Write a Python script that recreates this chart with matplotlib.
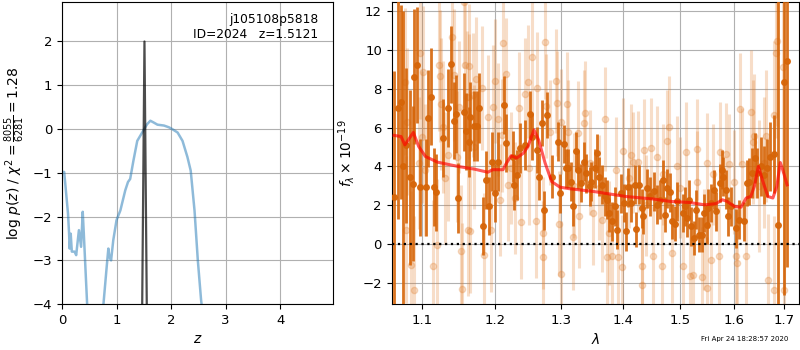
import numpy as np
import matplotlib
matplotlib.use('Agg')
from matplotlib import pyplot as plt
from matplotlib.ticker import NullLocator, FixedLocator, FixedFormatter

# ======== p(z) panel data ========
pz_z = [0.0, 0.04, 0.11, 0.13, 0.14, 0.16, 0.18, 0.23, 0.26, 0.31, 0.35, 0.38, 0.40,
        0.46, 0.55, 0.65, 0.76, 0.82, 0.85, 0.87, 0.90, 0.94, 1.0, 1.07, 1.16, 1.21,
        1.25, 1.31, 1.38, 1.47, 1.56, 1.62, 1.68, 1.75, 1.87, 1.96, 2.02, 2.12, 2.21,
        2.30, 2.36, 2.43, 2.49, 2.55, 2.7, 3.0, 3.5, 4.0, 4.5, 5.0]
pz_logp = [-0.98, -0.98, -1.93, -2.39, -2.73, -2.39, -2.80, -2.80, -2.88, -2.31, -2.69,
           -1.89, -2.39, -3.98, -5.5, -5.8, -4.0, -3.14, -2.73, -2.92, -3.0, -2.54, -2.08,
           -1.86, -1.40, -1.21, -1.14, -0.72, -0.27, -0.08, 0.11, 0.19, 0.15, 0.10, 0.08,
           0.04, 0.0, -0.08, -0.27, -0.64, -0.95, -1.86, -2.99, -3.9, -5.5, -8.0, -11.0,
           -14.0, -17.0, -20.0]

spike_z = [1.47, 1.5121, 1.555]
spike_logp = [-4.1, 2.0, -4.1]

z_best = 1.5121
obj_id = 2024
root = 'j105108p5818'
chi2_num, chi2_den = 8055, 6281

# ======== spectrum panel data ========
dark_wave = [1.063, 1.068, 1.072, 1.075, 1.079, 1.083, 1.087, 1.089, 1.093, 1.097,
             1.105, 1.108, 1.112, 1.116, 1.118, 1.127, 1.134, 1.138, 1.142, 1.145,
             1.148, 1.156, 1.159, 1.163, 1.165, 1.170, 1.175, 1.178, 1.183, 1.187,
             1.192, 1.196, 1.200, 1.205, 1.213, 1.217, 1.227, 1.228, 1.233, 1.237,
             1.244, 1.252, 1.255, 1.262, 1.266, 1.270, 1.273, 1.278, 1.285, 1.295,
             1.298, 1.304, 1.308, 1.311, 1.315, 1.319, 1.323, 1.327, 1.331, 1.336,
             1.340, 1.345, 1.348, 1.354, 1.357, 1.361, 1.365, 1.370, 1.374, 1.377,
             1.382, 1.386, 1.391, 1.397, 1.402, 1.405, 1.409, 1.414, 1.420, 1.423,
             1.427, 1.432, 1.435, 1.441, 1.446, 1.454, 1.459, 1.464, 1.470, 1.473,
             1.477, 1.482, 1.486, 1.490, 1.494, 1.505, 1.509, 1.513, 1.516, 1.520,
             1.525, 1.529, 1.535, 1.539, 1.544, 1.549, 1.551, 1.557, 1.562, 1.567,
             1.573, 1.577, 1.580, 1.585, 1.588, 1.594, 1.605, 1.610, 1.620, 1.626,
             1.630, 1.635, 1.642, 1.646, 1.653, 1.659, 1.665, 1.672, 1.679, 1.688,
             1.699, 1.706]
dark_flux = [2.4, 7.0, 7.31, 4.0, 5.08, 3.43, 3.1, 8.63, 9.23, 2.93,
             2.93, 6.48, 7.6, 2.93, 2.66, 5.45, 7.0, 9.26, 6.36, 6.69,
             2.37, 6.79, 5.8, 5.28, 6.57, 6.09, 6.09, 7.03, 0.91, 3.31,
             1.94, 4.25, 2.62, 4.25, 7.17, 5.2, 4.51, 3.05, 3.57, 4.94,
             5.11, 6.71, 5.54, 4.85, 3.48, 6.23, 1.73, 6.65, 3.48, 5.28,
             2.62, 5.16, 3.91, 3.91, 3.22, 1.94, 4.77, 3.83, 3.14, 4.25,
             3.65, 2.97, 3.22, 3.91, 4.68, 3.48, 3.05, 2.45, 2.28, 1.6,
             1.17, 1.94, 0.74, 2.62, 2.11, 0.65, 2.92, 2.11, 3.05, 0.77,
             3.05, 1.85, 1.42, 2.88, 2.45, 2.71, 2.02, 2.28, 3.31, 1.51,
             2.88, 2.66, 1.17, 1.05, 2.2, 1.6, 1.94, 1.34, 2.28, 0.91,
             0.31, 1.77, 0.48, 0.48, 1.6, 0.99, 1.85, 2.11, 2.8, 1.68,
             3.14, 3.83, 3.48, 2.8, 1.42, 1.94, 0.82, 1.25, 1.17, 3.14,
             3.22, 3.65, 4.42, 3.65, 4.0, 3.57, 3.91, 4.51, 4.65, 0.99,
             8.37, 9.43]
dark_err = [6.5, 5.7, 5.0, 8.0, 4.0, 4.5, 4.0, 3.5, 3.0, 2.5,
            2.5, 2.5, 2.5, 2.0, 2.0, 2.0, 2.0, 2.0, 2.0, 2.0,
            1.8, 2.0, 2.0, 1.8, 1.8, 1.8, 1.8, 1.8, 1.5, 1.5,
            1.5, 1.5, 1.5, 1.5, 1.5, 1.5, 1.3, 1.3, 1.3, 1.3,
            1.3, 1.2, 1.2, 1.2, 1.2, 1.2, 1.0, 1.2, 1.1, 1.0,
            1.0, 1.0, 1.0, 1.0, 1.0, 1.0, 1.0, 1.0, 1.0, 1.0,
            1.0, 1.0, 1.0, 1.0, 1.0, 1.0, 1.0, 1.0, 1.0, 1.0,
            1.0, 1.0, 1.0, 1.0, 1.0, 1.0, 1.0, 1.0, 1.0, 0.9,
            1.0, 1.0, 0.9, 1.0, 1.0, 1.0, 1.0, 1.0, 1.0, 0.9,
            1.0, 1.0, 0.9, 0.9, 1.0, 1.0, 1.0, 1.0, 1.0, 1.0,
            0.9, 1.0, 0.9, 0.9, 1.0, 1.0, 1.0, 1.0, 1.0, 1.0,
            1.0, 1.0, 1.0, 1.0, 1.0, 1.0, 1.0, 1.0, 1.0, 1.2,
            1.2, 1.3, 1.3, 1.3, 1.5, 1.5, 1.5, 1.8, 2.0, 12.0,
            11.0, 10.6]

light_wave = [1.077, 1.078, 1.080, 1.085, 1.089, 1.095, 1.097, 1.100, 1.101, 1.104,
              1.114, 1.120, 1.122, 1.123, 1.125, 1.127, 1.130, 1.134, 1.140, 1.143,
              1.147, 1.150, 1.152, 1.154, 1.156, 1.158, 1.160, 1.162, 1.163, 1.164,
              1.165, 1.169, 1.170, 1.173, 1.182, 1.185, 1.190, 1.194, 1.197, 1.200,
              1.204, 1.207, 1.210, 1.212, 1.216, 1.220, 1.223, 1.230, 1.236, 1.239,
              1.244, 1.249, 1.250, 1.255, 1.261, 1.263, 1.271, 1.272, 1.275, 1.276,
              1.282, 1.292, 1.293, 1.296, 1.299, 1.300, 1.309, 1.310, 1.319, 1.320,
              1.327, 1.328, 1.336, 1.337, 1.345, 1.351, 1.360, 1.366, 1.370, 1.373,
              1.377, 1.382, 1.388, 1.392, 1.399, 1.400, 1.410, 1.414, 1.418, 1.426,
              1.432, 1.433, 1.436, 1.440, 1.449, 1.451, 1.459, 1.468, 1.470, 1.476,
              1.480, 1.486, 1.495, 1.500, 1.505, 1.511, 1.517, 1.523, 1.530, 1.531,
              1.539, 1.544, 1.549, 1.550, 1.557, 1.560, 1.571, 1.574, 1.585, 1.590,
              1.600, 1.605, 1.607, 1.612, 1.616, 1.624, 1.633, 1.637, 1.640, 1.650,
              1.660, 1.664, 1.667, 1.679, 1.680, 1.683, 1.686, 1.697, 1.699]
light_flux = [8.37, 0.74, 6.31, -1.06, -2.35, 4.17, 9.83, 5.5, 8.89, 3.83,
              -1.15, -0.03, 9.23, 8.66, 7.22, 6.05, 3.4, 4.6, 10.69, 8.71,
              4.51, 7.08, -0.38, -2.32, 12.49, 9.23, 7.6, 0.74, 7.6, 9.18,
              0.65, 7.68, 5.0, 8.49, 8.03, -0.55, 6.54, 0.74, 7.05, 8.4,
              6.43, 2.28, 5.6, 10.34, 8.77, 3.05, 3.91, 2.37, 7.0, 1.11,
              7.74, 8.37, 3.9, 9.62, 1.17, 8.03, 0.57, -0.67, 10.39, 7.12,
              5.75, 8.4, 7.26, 1.05, -1.53, 6.31, 7.22, 5.76, 0.34, 3.0,
              5.71, 1.46, 6.26, 6.74, 4.2, 1.6, 2.9, 1.25, 6.45, -0.69,
              0.57, -0.6, 3.83, -0.69, -1.2, 4.82, 3.4, 4.6, 4.22, 4.25,
              -2.09, -1.15, 4.85, 2.0, 4.94, -0.63, 4.51, -1.15, 3.6, 5.32,
              6.05, -0.46, 4.0, 2.9, -1.15, 4.72, -1.66, -1.58, 4.89, 3.2,
              -1.7, 0.22, 4.17, -2.26, -0.81, 3.6, -0.63, 4.72, 4.65, 4.1,
              3.2, -0.63, -0.98, 6.95, 4.13, -0.63, 6.78, 5.28, 5.57, 3.0,
              4.2, 5.57, -1.84, -2.35, 6.66, 9.86, 10.48, 9.14, -2.35]
light_err = [3.8, 3.8, 3.8, 3.8, 3.8, 3.4, 3.4, 3.4, 3.4, 3.4,
             3.4, 3.4, 3.4, 3.4, 3.4, 3.4, 3.4, 3.4, 3.4, 3.4,
             3.4, 3.4, 3.4, 3.4, 3.4, 3.4, 3.4, 3.4, 3.2, 3.2,
             3.2, 3.2, 3.2, 3.2, 3.2, 3.2, 3.2, 3.2, 3.2, 3.2,
             2.9, 2.9, 2.9, 2.9, 2.9, 2.9, 2.9, 2.9, 2.9, 2.9,
             2.9, 2.9, 2.9, 2.9, 2.9, 2.9, 2.9, 2.9, 2.9, 2.7,
             2.7, 2.7, 2.7, 2.7, 2.7, 2.7, 2.7, 2.7, 2.7, 2.7,
             2.7, 2.7, 2.7, 2.7, 2.7, 2.7, 2.7, 2.7, 2.7, 2.7,
             2.7, 2.7, 2.7, 2.7, 2.7, 2.7, 2.6, 2.6, 2.6, 2.6,
             2.6, 2.6, 2.6, 2.6, 2.6, 2.6, 2.6, 2.6, 2.6, 2.6,
             2.6, 2.6, 2.6, 2.6, 2.6, 2.6, 2.6, 2.6, 2.6, 2.6,
             2.6, 2.6, 2.6, 2.6, 2.6, 2.6, 2.6, 2.6, 2.6, 2.6,
             2.7, 2.7, 2.7, 2.9, 2.9, 2.9, 3.2, 3.2, 3.2, 3.4,
             3.4, 3.4, 3.4, 3.8, 3.8, 4.4, 4.4, 5.5, 5.5]

model_wave = [1.063, 1.072, 1.077, 1.082, 1.088, 1.095, 1.104, 1.120, 1.148, 1.171,
              1.190, 1.197, 1.212, 1.217, 1.224, 1.232, 1.242, 1.249, 1.258, 1.265,
              1.275, 1.285, 1.298, 1.313, 1.351, 1.405, 1.452, 1.481, 1.517, 1.545,
              1.566, 1.578, 1.587, 1.601, 1.614, 1.624, 1.633, 1.640, 1.648, 1.657,
              1.667, 1.677, 1.685, 1.692, 1.697, 1.706]
model_flux = [5.6, 5.54, 5.11, 5.4, 5.75, 5.03, 4.51, 4.22, 4.0, 3.86,
              3.7, 3.83, 3.83, 4.17, 4.55, 4.43, 4.68, 5.03, 5.88, 5.37,
              4.17, 3.22, 2.93, 2.85, 2.71, 2.45, 2.32, 2.2, 2.14, 2.02,
              2.08, 2.28, 2.2, 1.94, 1.9, 2.37, 2.45, 2.97, 4.0, 3.22,
              2.45, 2.37, 2.97, 4.2, 3.83, 3.05]

wave_ticks = [1.1, 1.2, 1.3, 1.4, 1.5, 1.6, 1.7]
stamp = 'Fri Apr 24 18:28:57 2020'

assert len(dark_wave) == len(dark_flux) == len(dark_err)
assert len(light_wave) == len(light_flux) == len(light_err)
assert len(model_wave) == len(model_flux)

# ======== Figure ========
fig = plt.figure(figsize=(8, 3.5), dpi=100)
ax1 = fig.add_axes([0.0775, 0.131, 0.3388, 0.863])
ax2 = fig.add_axes([0.4896, 0.131, 0.5088, 0.863])

# left: p(z)
ax1.plot(pz_z, pz_logp, color='#1f77b4', alpha=0.5, lw=1.8)
ax1.plot(spike_z, spike_logp, color='k', alpha=0.7, lw=1.6)
ax1.set_xlim(0, 4.97)
ax1.set_ylim(-4, 2.9)
ax1.set_xticks([0, 1, 2, 3, 4])
ax1.set_yticks([-4, -3, -2, -1, 0, 1, 2])
ax1.grid(color='#b0b0b0', lw=0.8)
ax1.set_xlabel('$z$', fontsize=10)
ax1.set_ylabel(r'log $p(z)$ / $\chi^2=\frac{%d}{%d}=%.2f$'
               % (chi2_num, chi2_den, chi2_num / chi2_den), fontsize=10)
ax1.text(0.945, 0.965, '%s\nID=%d   z=%.4f' % (root, obj_id, z_best),
         transform=ax1.transAxes, ha='right', va='top', fontsize=8.8)
ax1.tick_params(labelsize=9.5)

# right: spectrum
ax2.errorbar(light_wave, light_flux, yerr=light_err, fmt='o', color='#e07a25',
             alpha=0.25, markersize=4.5, elinewidth=2.2, capsize=0, zorder=2)
ax2.errorbar(dark_wave, dark_flux, yerr=dark_err, fmt='o', color='#d66508',
             alpha=0.9, markersize=4, elinewidth=2.0, capsize=0, zorder=3)
ax2.plot(model_wave, model_flux, color='red', alpha=0.65, lw=2.2, zorder=4)
ax2.axhline(0, color='k', ls=':', lw=1.6, zorder=5)

ax2.set_xscale('log')
ax2.set_xlim(1.06, 1.73)
ax2.set_ylim(-3.1, 12.47)
ax2.xaxis.set_major_locator(FixedLocator(wave_ticks))
ax2.xaxis.set_major_formatter(FixedFormatter(['%.1f' % w for w in wave_ticks]))
ax2.xaxis.set_minor_locator(NullLocator())
ax2.set_yticks([-2, 0, 2, 4, 6, 8, 10, 12])
ax2.grid(color='#b0b0b0', lw=0.8)
ax2.set_xlabel(r'$\lambda$', fontsize=10)
ax2.set_ylabel(r'$f_\lambda\times10^{-19}$', fontsize=10)
ax2.tick_params(labelsize=9.5)

fig.text(0.985, 0.031, stamp, ha='right', va='center', fontsize=5)

fig.savefig('out.png', dpi=100)
